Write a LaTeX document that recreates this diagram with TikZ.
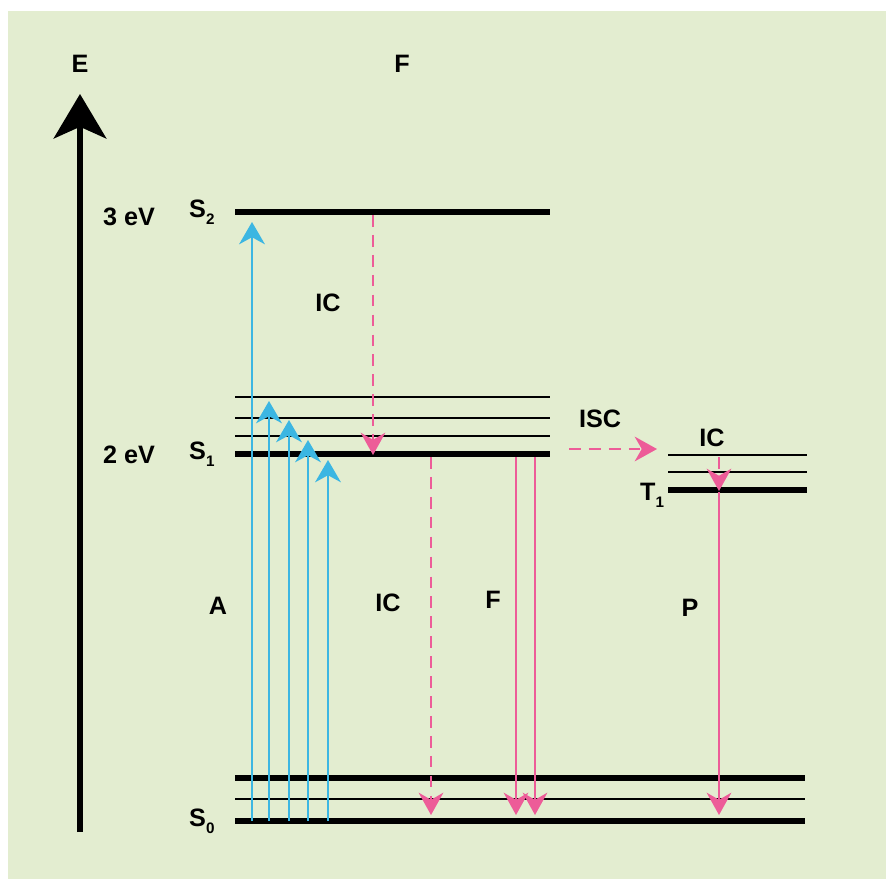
\documentclass[tikz,border=0pt]{standalone}
\usepackage{fontspec}
\setmainfont{Liberation Sans}
\usepackage{xcolor}
\usepackage{tikz}
\usetikzlibrary{arrows.meta}

\definecolor{bggreen}{RGB}{227,237,208}
\definecolor{absblue}{RGB}{60,182,226}
\definecolor{emipink}{RGB}{237,92,152}
\newcommand{\lvsub}[1]{\raisebox{-0.6ex}{\fontsize{13}{13}\selectfont #1}}

\begin{document}
\begin{tikzpicture}[x=0.3mm,y=-0.3mm,
  lbl/.style={font=\fontsize{21.5}{25}\selectfont\bfseries,inner sep=0pt},
  lev/.style={line width=4.6pt},
  vib/.style={line width=2.5pt},
  up/.style={absblue,line width=2.2pt,-{Stealth[length=19pt,width=22pt,inset=6pt]}},
  down/.style={emipink,line width=2.2pt,-{Stealth[length=19pt,width=21pt,inset=6pt]}},
  ic/.style={down,dash pattern=on 10pt off 7pt}]
\useasboundingbox (0,0) rectangle (886,879);
\fill[white] (0,0) rectangle (886,879);
\fill[bggreen] (8,11) rectangle (886,879);

% energy axis
\coordinate (ebot) at (80,832);
\coordinate (etop) at (80,94);
\draw[line width=4.3pt,-{Stealth[length=38pt,width=45pt,inset=10pt]}] (ebot) -- (etop);
\node[lbl] (elab) at (80,64) {E};
\node[lbl] (ftop) at (402,64) {F};
\node[lbl] (ev3) at (129,217) {3 eV};
\node[lbl] (ev2) at (129,455) {2 eV};

% singlet levels
\draw[lev] (235,212) -- (550,212);
\draw[vib] (235,397) -- (550,397);
\draw[vib] (235,418) -- (550,418);
\draw[vib] (235,436) -- (550,436);
\draw[lev] (235,454) -- (550,454);
\node[lbl,anchor=base west] (s2lab) at (189,217) {S\lvsub{2}};
\node[lbl,anchor=base west] (s1lab) at (189,459) {S\lvsub{1}};

% triplet levels
\draw[vib] (668,455) -- (807,455);
\draw[vib] (668,472) -- (807,472);
\draw[lev] (668,490) -- (807,490);
\node[lbl,anchor=base west] (t1lab) at (640,500) {T\lvsub{1}};

% ground state
\draw[lev] (235,778) -- (805,778);
\draw[vib] (235,799) -- (805,799);
\draw[lev] (235,821) -- (805,821);
\node[lbl,anchor=base west] (s0lab) at (189,826) {S\lvsub{0}};

% absorption
\foreach \x/\y [count=\i] in {252/222,269/401,289/420,308/440,328/460} {
  \coordinate (abs\i) at (\x,821);
  \coordinate (abs\i t) at (\x,\y);
  \draw[up] (abs\i) -- (abs\i t);
}
\node[lbl] (alab) at (218,606) {A};

% internal conversion
\coordinate (ic1) at (373,215);
\coordinate (ic1t) at (373,455);
\draw[ic] (ic1) -- (ic1t);
\node[lbl] (ic1lab) at (328,303) {IC};
\coordinate (ic2) at (431,457);
\coordinate (ic2t) at (431,815);
\draw[ic] (ic2) -- (ic2t);
\node[lbl] (ic2lab) at (388,603) {IC};

% fluorescence
\coordinate (fl1) at (516,457);
\coordinate (fl1t) at (516,815);
\coordinate (fl2) at (535,457);
\coordinate (fl2t) at (535,815);
\draw[down] (fl1) -- (fl1t);
\draw[down] (fl2) -- (fl2t);
\node[lbl] (flab) at (493,600) {F};

% intersystem crossing
\coordinate (isc) at (569,449);
\coordinate (isct) at (657,449);
\draw[ic] (isc) -- (isct);
\node[lbl] (isclab) at (600,419) {ISC};
\coordinate (ic3) at (719,457);
\coordinate (ic3t) at (719,491);
\draw[ic] (ic3) -- (ic3t);
\node[lbl] (ic3lab) at (712,438) {IC};

% phosphorescence
\coordinate (ph) at (719,492);
\coordinate (pht) at (719,815);
\draw[down] (ph) -- (pht);
\node[lbl] (plab) at (690,608) {P};
\end{tikzpicture}
\end{document}
